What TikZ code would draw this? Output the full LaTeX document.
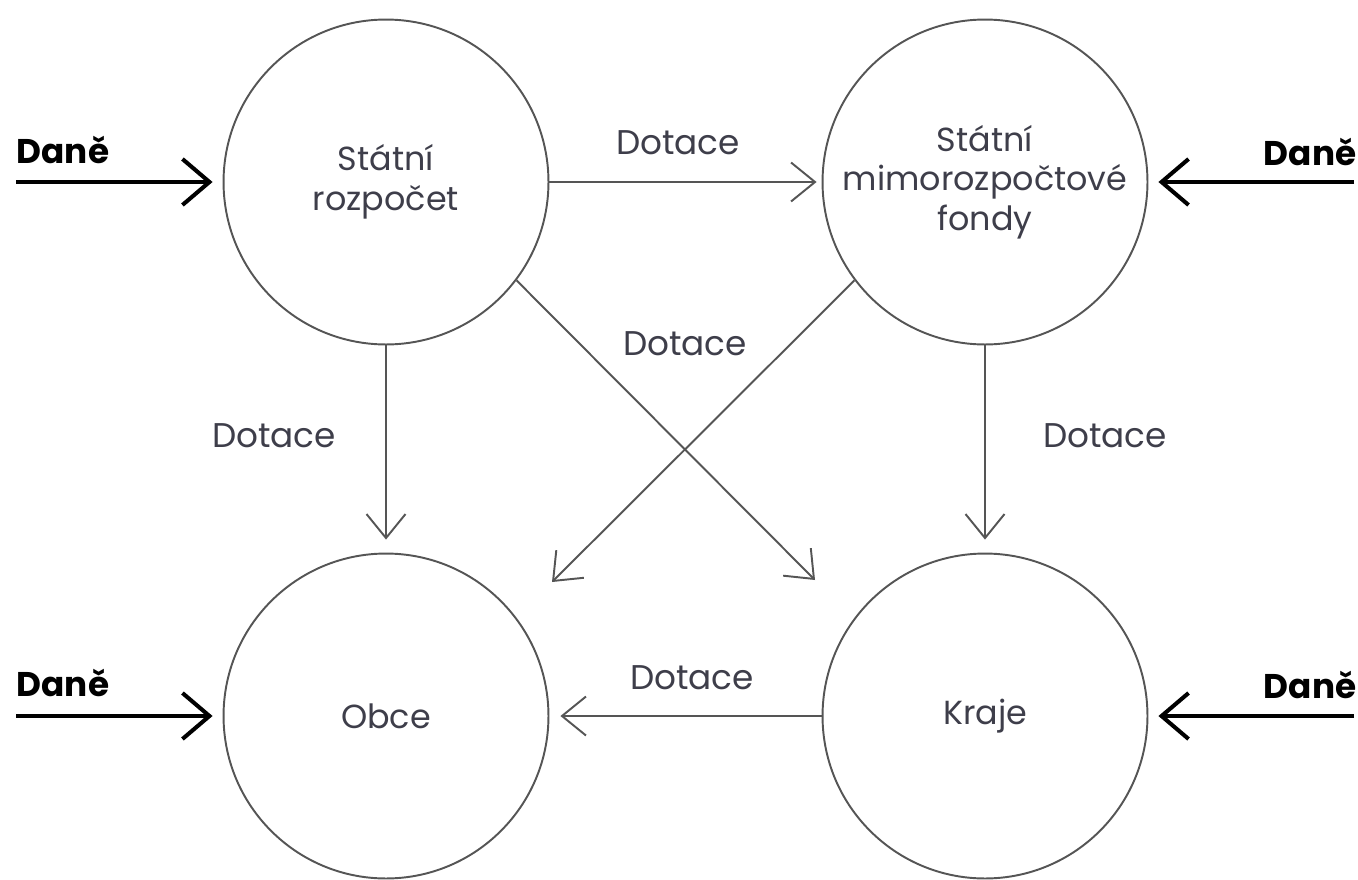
\documentclass[tikz,border=0pt]{standalone}
\usepackage{fontspec}
\setmainfont{Poppins}
\usetikzlibrary{arrows.meta}
\definecolor{ringgray}{HTML}{555555}
\definecolor{txtgray}{HTML}{3E3E4A}
\begin{document}
\begin{tikzpicture}[x=0.02cm,y=-0.02cm,
  fund/.style={draw=ringgray,line width=1.1pt,circle,minimum size=6.5cm,inner sep=0pt,
    align=center,text=txtgray,font=\fontsize{19}{22.5}\selectfont},
  flow/.style={draw=ringgray,line width=1.1pt,-{Straight Barb[length=0.48cm,width=0.78cm]}},
  tax/.style={draw=black,line width=2.3pt,-{Straight Barb[length=0.54cm,width=0.92cm]}},
  lbl/.style={text=txtgray,font=\fontsize{19.5}{22.5}\selectfont},
  taxlbl/.style={text=black,font=\fontsize{19.5}{22.5}\selectfont\bfseries}]
\useasboundingbox (0,0) rectangle (1358,879);
% kruhy
\node[fund] (rozpocet) at (386,182) {Státní\\rozpočet};
\node[fund] (fondy) at (985,182) {Státní\\mimorozpočtové\\fondy};
\node[fund] (obce) at (386,716) {Obce};
\node[fund] (kraje) at (985,716) {Kraje};
% volne konce
\coordinate (danTL) at (16,182);
\coordinate (danTR) at (1354,182);
\coordinate (danBL) at (16,716);
\coordinate (danBR) at (1354,716);
\coordinate (krizK) at (815,580);
\coordinate (krizO) at (552,582);
% dane
\draw[tax,shorten >=0.2cm] (danTL) -- (rozpocet.west);
\draw[tax,shorten >=0.2cm] (danTR) -- (fondy.east);
\draw[tax,shorten >=0.2cm] (danBL) -- (obce.west);
\draw[tax,shorten >=0.2cm] (danBR) -- (kraje.east);
\node[taxlbl] at (63,150) {Daně};
\node[taxlbl] at (1310,152) {Daně};
\node[taxlbl] at (63,683) {Daně};
\node[taxlbl] at (1310,685) {Daně};
% dotace
\draw[flow,shorten >=0.1cm] (rozpocet.east) -- (fondy.west);
\draw[flow,shorten >=0.26cm] (rozpocet.south) -- (obce.north);
\draw[flow,shorten >=0.26cm] (fondy.south) -- (kraje.north);
\draw[flow,shorten >=0.22cm] (kraje.west) -- (obce.east);
\draw[flow] (rozpocet.-37.6) -- (krizK);
\draw[flow] (fondy.217.4) -- (krizO);
\node[lbl] at (678,143) {Dotace};
\node[lbl] at (685,344) {Dotace};
\node[lbl] at (274,436) {Dotace};
\node[lbl] at (1105,436) {Dotace};
\node[lbl] at (692,678) {Dotace};
\end{tikzpicture}
\end{document}
